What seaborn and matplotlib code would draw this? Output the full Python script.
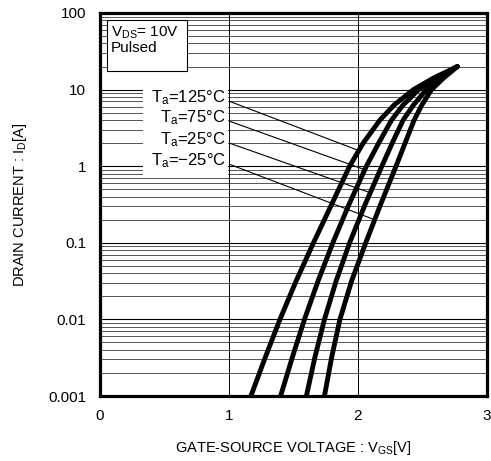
import numpy as np
import pandas as pd
import matplotlib
matplotlib.use("Agg")
import matplotlib.pyplot as plt
from matplotlib.patches import Rectangle
import seaborn as sns

# Drain current points (A) shared by all temperature curves
drain_current = [0.001, 0.00316, 0.01, 0.0316, 0.1, 0.316, 1, 2, 4, 6.3, 10, 14, 20]

# Gate-source voltage (V) at each drain current, per ambient temperature
vgs_125 = [1.17, 1.28, 1.395, 1.52, 1.655, 1.795, 1.935, 2.04, 2.17, 2.28, 2.43, 2.58, 2.77]
vgs_75 = [1.40, 1.49, 1.585, 1.69, 1.805, 1.93, 2.065, 2.16, 2.26, 2.35, 2.47, 2.60, 2.77]
vgs_25 = [1.60, 1.665, 1.74, 1.83, 1.935, 2.055, 2.185, 2.265, 2.35, 2.43, 2.53, 2.64, 2.77]
vgs_m25 = [1.74, 1.795, 1.86, 1.95, 2.06, 2.175, 2.295, 2.365, 2.435, 2.495, 2.57, 2.66, 2.77]

temps = ["125", "75", "25", "-25"]
temp_labels = ["T$_\\mathregular{a}$=125°C", "T$_\\mathregular{a}$=75°C",
               "T$_\\mathregular{a}$=25°C", "T$_\\mathregular{a}$=\u221225°C"]
# Current at which each label's leader line meets its curve
leader_current = [1.6, 0.9, 0.45, 0.2]

x_ticks = [0, 1, 2, 3]
y_ticks = [0.001, 0.01, 0.1, 1, 10, 100]
y_ticklabels = ["0.001", "0.01", "0.1", "1", "10", "100"]

series = [vgs_125, vgs_75, vgs_25, vgs_m25]
df = pd.concat(
    [pd.DataFrame({"Vgs": v, "Id": drain_current, "Ta": t}) for v, t in zip(series, temps)],
    ignore_index=True,
)

sns.set_theme(style="white")
plt.rcParams["font.family"] = ["Liberation Sans", "DejaVu Sans"]
plt.rcParams["mathtext.fontset"] = "custom"
plt.rcParams["mathtext.rm"] = "Liberation Sans"
plt.rcParams["mathtext.it"] = "Liberation Sans"

fig = plt.figure(figsize=(4.91, 4.61), dpi=100)
ax = fig.add_axes([100 / 491, 65 / 461, 387 / 491, 383 / 461])

# Grid: decades and minor log lines, plus vertical lines at 1 V and 2 V
for dec in [0.001, 0.01, 0.1, 1, 10]:
    for m in range(1, 10):
        yv = dec * m
        ax.axhline(yv, color="black" if m == 1 else "#3a3a3a",
                   lw=0.8 if m == 1 else 0.6, zorder=1)
for xv in [1, 2]:
    ax.axvline(xv, color="black", lw=0.7, zorder=1)

sns.lineplot(data=df, x="Vgs", y="Id", hue="Ta", hue_order=temps,
             palette=["black"] * 4, lw=3.5, legend=False, sort=False,
             estimator=None, ax=ax, zorder=5, solid_capstyle="round",
             solid_joinstyle="round")

ax.set_yscale("log")
ax.set_xlim(0, 3)
ax.set_ylim(0.001, 100)
ax.set_xticks(x_ticks)
ax.set_xticklabels([str(t) for t in x_ticks])
ax.set_yticks(y_ticks)
ax.set_yticklabels(y_ticklabels)
ax.yaxis.set_minor_locator(matplotlib.ticker.NullLocator())
ax.tick_params(axis="both", length=0, labelsize=11, colors="black")
ax.tick_params(axis="x", pad=9)
ax.tick_params(axis="y", pad=10)
for s in ax.spines.values():
    s.set_linewidth(2.3)
    s.set_color("black")
    s.set_zorder(10)

ax.set_xlabel("GATE-SOURCE VOLTAGE : V$_\\mathregular{GS}$[V]", fontsize=10.5,
              color="black", labelpad=12)
ax.set_ylabel("DRAIN CURRENT : I$_\\mathregular{D}$[A]", fontsize=10.5,
              color="black", labelpad=14)

# White panel behind the temperature labels
ax.add_patch(Rectangle((0.111, 0.577), 0.22, 0.248, transform=ax.transAxes,
                       fc="white", ec="none", zorder=3))

label_y = [7.76, 4.26, 2.2, 1.17]
log_id = np.log10(drain_current)
for lab, v, cur, ly in zip(temp_labels, series, leader_current, label_y):
    xv = np.interp(np.log10(cur), log_id, v)
    ax.annotate(lab, xy=(xv, cur), xytext=(0.975, ly), textcoords="data",
                ha="right", va="center", fontsize=12, color="black", zorder=4,
                arrowprops=dict(arrowstyle="-", color="black", lw=0.8,
                                shrinkA=1, shrinkB=0, relpos=(1, 0.4)))

# Test condition box
ax.add_patch(Rectangle((0.018, 0.849), 0.207, 0.133, transform=ax.transAxes,
                       fc="white", ec="black", lw=0.8, zorder=6))
ax.text(0.028, 0.97, "V$_\\mathregular{DS}$= 10V\nPulsed", transform=ax.transAxes,
        ha="left", va="top", fontsize=11, color="black", zorder=7,
        linespacing=1.0)

fig.savefig("out.png", dpi=100)
